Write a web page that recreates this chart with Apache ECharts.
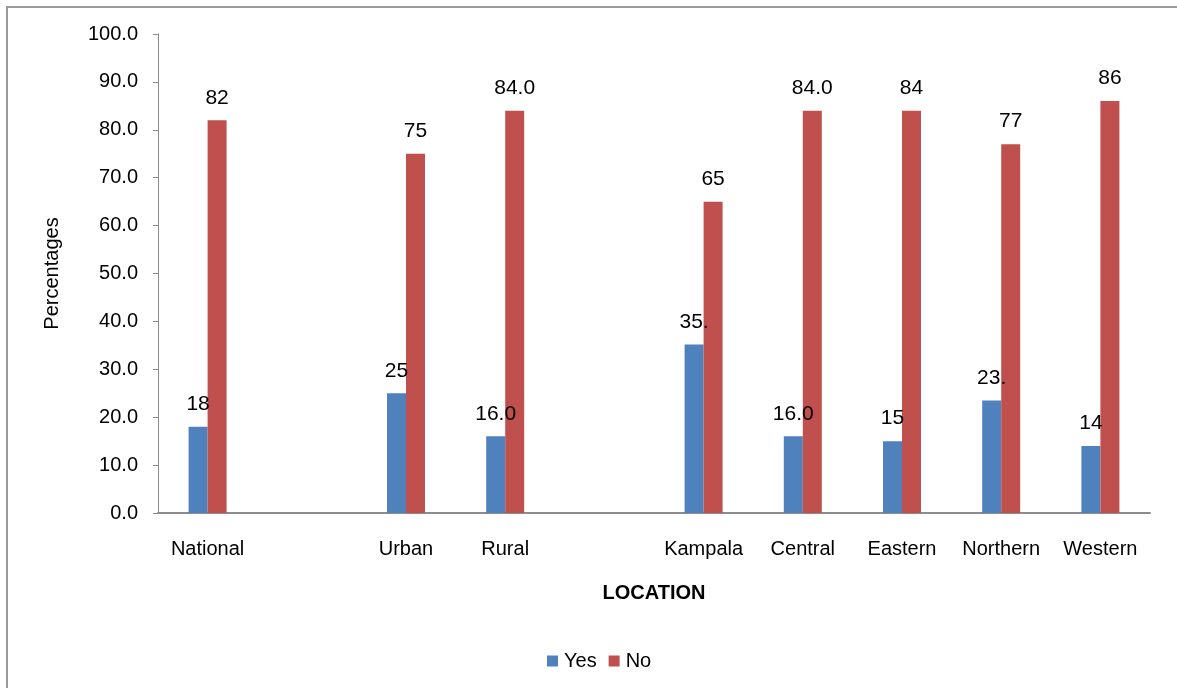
<!DOCTYPE html>
<html>
<head>
<meta charset="utf-8">
<script src="https://cdn.jsdelivr.net/npm/echarts@6/dist/echarts.min.js"></script>
<style>
  html, body { margin: 0; padding: 0; background: #ffffff; }
  #chart { width: 1177px; height: 688px; }
</style>
</head>
<body>
<div id="chart"></div>
<script>
// Locations (empty entries leave a gap between the groups)
const categories = ['National', '', 'Urban', 'Rural', '', 'Kampala', 'Central', 'Eastern', 'Northern', 'Western'];

// Share of respondents answering Yes / No, in percent
const yesValues = [18, null, 25, 16.0, null, 35.2, 16.0, 15, 23.5, 14];
const noValues  = [82, null, 75, 84.0, null, 65, 84.0, 84, 77, 86];

// Value labels as printed above each bar
const yesLabels = ['18', '', '25', '16.0', '', '35.', '16.0', '15', '23.', '14'];
const noLabels  = ['82', '', '75', '84.0', '', '65', '84.0', '84', '77', '86'];

// Y axis tick labels
const yTicks = [0, 10, 20, 30, 40, 50, 60, 70, 80, 90, 100];

const FONT = '"Liberation Sans", Arial, sans-serif';

const chart = echarts.init(document.getElementById('chart'), null, { renderer: 'canvas' });

const labelStyle = (texts) => ({
  show: true,
  position: 'top',
  distance: 12,
  color: '#000000',
  fontFamily: FONT,
  fontSize: 21,
  formatter: (p) => texts[p.dataIndex]
});

chart.setOption({
  backgroundColor: '#ffffff',
  animation: false,
  textStyle: { fontFamily: FONT },
  graphic: [{
    type: 'rect',
    shape: { x: 7, y: 7, width: 1200, height: 700 },
    style: { fill: 'none', stroke: '#9a9a9a', lineWidth: 2 },
    silent: true
  }],
  grid: { left: 158, right: 27, top: 34, bottom: 175, containLabel: false },
  legend: {
    data: ['Yes', 'No'],
    left: 542,
    top: 646,
    icon: 'rect',
    itemWidth: 11,
    itemHeight: 11,
    itemGap: 12,
    textStyle: { fontFamily: FONT, fontSize: 20, color: '#000000', padding: [0, 0, 0, 1] }
  },
  xAxis: {
    type: 'category',
    data: categories,
    name: 'LOCATION',
    nameLocation: 'middle',
    nameGap: 70,
    nameTextStyle: { fontFamily: FONT, fontSize: 20, fontWeight: 'bold', color: '#000000' },
    axisLine: { show: true, lineStyle: { color: '#8c8c8c', width: 2 } },
    axisTick: { show: false },
    axisLabel: { interval: 0, margin: 26, fontFamily: FONT, fontSize: 20, color: '#000000' },
    splitLine: { show: false }
  },
  yAxis: {
    type: 'value',
    min: yTicks[0],
    max: yTicks[yTicks.length - 1],
    interval: 10,
    name: 'Percentages',
    nameLocation: 'middle',
    nameGap: 96,
    nameTextStyle: { fontFamily: FONT, fontSize: 20, color: '#000000' },
    axisLine: { show: true, lineStyle: { color: '#8c8c8c', width: 1 } },
    axisTick: { show: true, length: 5, inside: false, lineStyle: { color: '#8c8c8c' } },
    axisLabel: {
      margin: 20,
      fontFamily: FONT,
      fontSize: 20,
      color: '#000000',
      formatter: (v) => v.toFixed(1)
    },
    splitLine: { show: false }
  },
  series: [
    {
      name: 'Yes',
      type: 'bar',
      data: yesValues,
      barWidth: 19,
      barGap: '0%',
      itemStyle: { color: '#4F81BD' },
      label: labelStyle(yesLabels)
    },
    {
      name: 'No',
      type: 'bar',
      data: noValues,
      barWidth: 19,
      itemStyle: { color: '#C0504D' },
      label: labelStyle(noLabels)
    }
  ]
});
</script>
</body>
</html>
